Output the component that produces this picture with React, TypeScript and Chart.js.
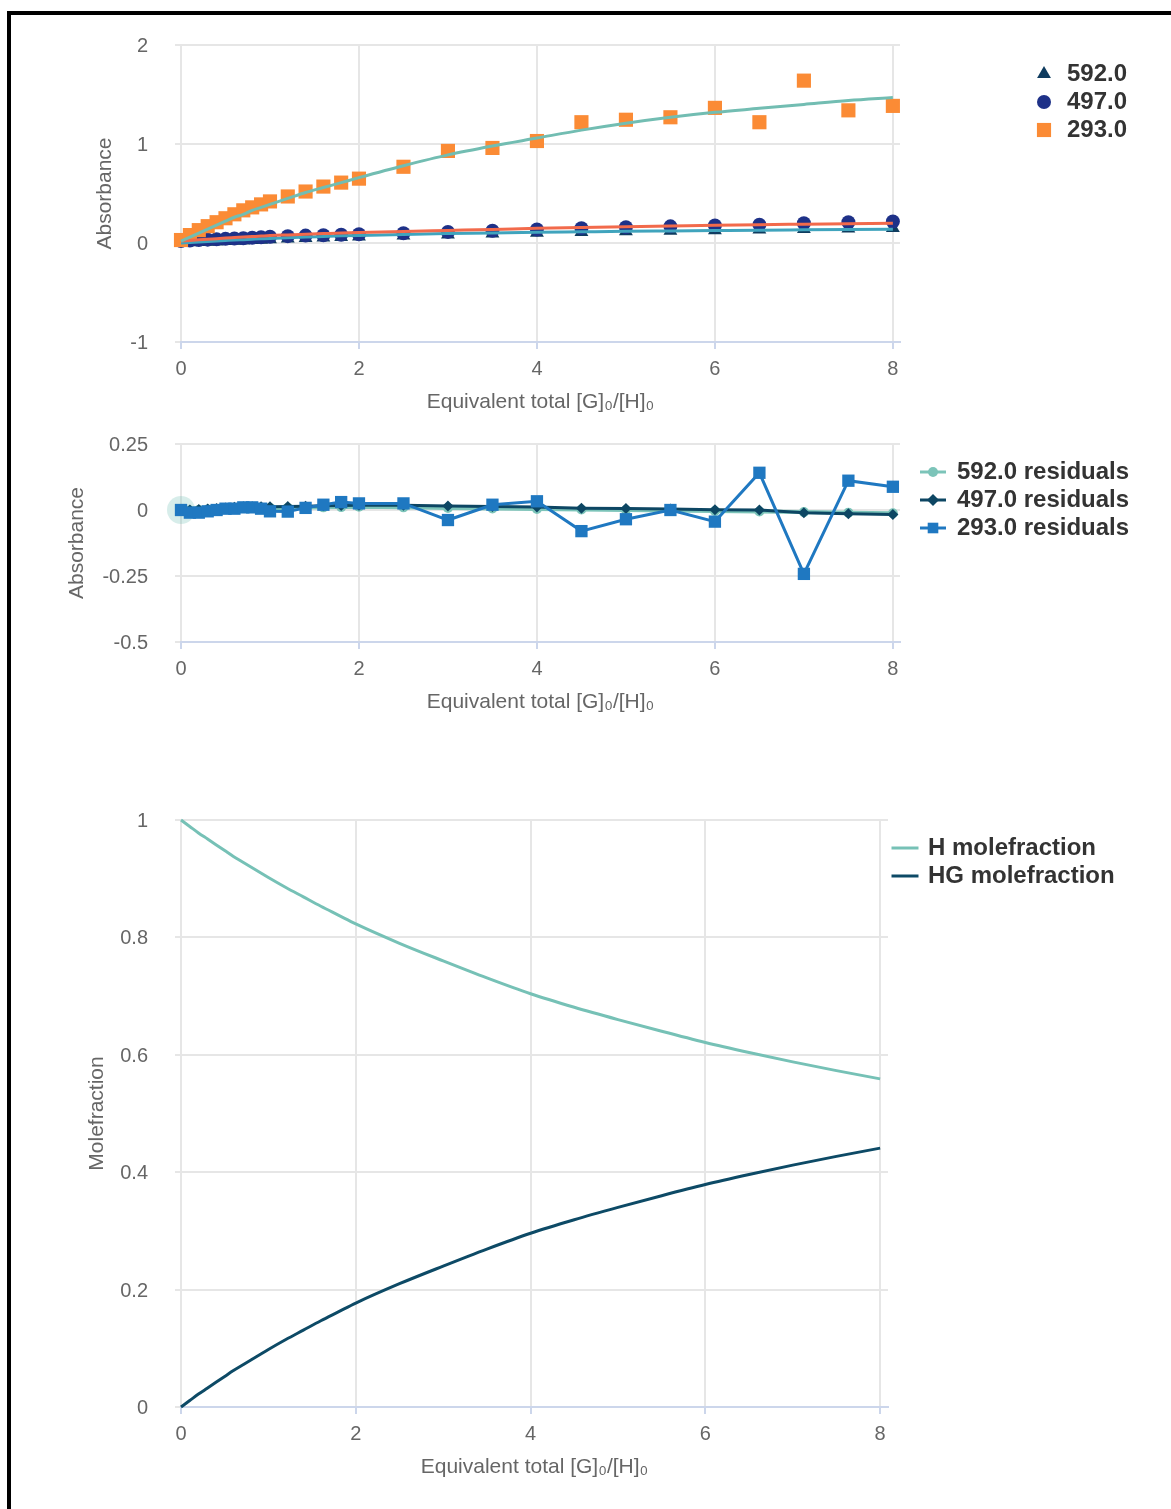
import React, { useEffect, useRef } from 'react';
import { Chart, registerables } from 'chart.js';
import { drawPoint } from 'chart.js/helpers';

Chart.register(...registerables);

const FONT = '"Liberation Sans", Arial, Helvetica, sans-serif';
Chart.defaults.font.family = FONT;

// ---------- data ----------
const xEquiv = [0, 0.1, 0.2, 0.3, 0.4, 0.5, 0.6, 0.7, 0.8, 0.9, 1.0, 1.2, 1.4, 1.6, 1.8, 2.0, 2.5, 3, 3.5, 4, 4.5, 5, 5.5, 6, 6.5, 7, 7.5, 8];

const abs592 = [0, 0.007, 0.01, 0.013, 0.016, 0.019, 0.023, 0.026, 0.03, 0.034, 0.038, 0.045, 0.051, 0.056, 0.061, 0.065, 0.077, 0.087, 0.096, 0.104, 0.111, 0.118, 0.124, 0.13, 0.136, 0.141, 0.146, 0.151];
const abs497 = [0.02, 0.026, 0.03, 0.034, 0.038, 0.042, 0.045, 0.048, 0.053, 0.058, 0.063, 0.069, 0.075, 0.079, 0.084, 0.088, 0.099, 0.112, 0.124, 0.137, 0.15, 0.159, 0.168, 0.178, 0.185, 0.2, 0.209, 0.217];
const abs293 = [0.03, 0.08, 0.13, 0.17, 0.21, 0.25, 0.29, 0.33, 0.36, 0.39, 0.42, 0.47, 0.52, 0.57, 0.61, 0.65, 0.77, 0.93, 0.96, 1.03, 1.22, 1.245, 1.27, 1.365, 1.22, 1.64, 1.34, 1.385];

const fit592 = [0, 0.005, 0.01, 0.015, 0.02, 0.025, 0.03, 0.034, 0.038, 0.042, 0.046, 0.053, 0.06, 0.066, 0.072, 0.077, 0.087, 0.095, 0.102, 0.108, 0.113, 0.118, 0.122, 0.126, 0.13, 0.133, 0.136, 0.139];
const fit497 = [0.02, 0.026, 0.032, 0.038, 0.044, 0.05, 0.055, 0.06, 0.065, 0.07, 0.075, 0.082, 0.089, 0.095, 0.101, 0.106, 0.117, 0.127, 0.137, 0.148, 0.157, 0.165, 0.172, 0.179, 0.185, 0.19, 0.195, 0.2];
const fit293 = [0.02, 0.06, 0.1, 0.14, 0.18, 0.22, 0.26, 0.29, 0.33, 0.36, 0.39, 0.45, 0.51, 0.56, 0.61, 0.66, 0.78, 0.89, 0.98, 1.06, 1.14, 1.21, 1.27, 1.32, 1.36, 1.4, 1.44, 1.47];

const res592 = [0, -0.002, 0, 0.002, 0.004, 0.006, 0.007, 0.008, 0.008, 0.008, 0.008, 0.008, 0.009, 0.01, 0.011, 0.012, 0.01, 0.008, 0.006, 0.004, 0.002, 0, -0.002, -0.004, -0.006, -0.008, -0.01, -0.012];
const res497 = [0, 0, 0.002, 0.004, 0.006, 0.008, 0.01, 0.012, 0.012, 0.012, 0.012, 0.013, 0.014, 0.016, 0.017, 0.018, 0.018, 0.015, 0.013, 0.011, 0.007, 0.006, 0.004, 0.001, 0, -0.01, -0.014, -0.017];
const res293 = [0, -0.01, -0.01, -0.005, 0, 0.005, 0.005, 0.01, 0.01, 0.005, -0.005, -0.006, 0.008, 0.02, 0.03, 0.025, 0.025, -0.038, 0.02, 0.033, -0.08, -0.035, 0, -0.044, 0.141, -0.242, 0.111, 0.088];

const moleH = [1, 0.989, 0.978, 0.968, 0.958, 0.948, 0.938, 0.929, 0.92, 0.911, 0.902, 0.885, 0.869, 0.853, 0.838, 0.823, 0.79, 0.76, 0.731, 0.704, 0.681, 0.66, 0.64, 0.621, 0.604, 0.588, 0.573, 0.559];
const moleHG = [0, 0.011, 0.022, 0.032, 0.042, 0.052, 0.062, 0.071, 0.08, 0.089, 0.098, 0.115, 0.131, 0.147, 0.162, 0.177, 0.21, 0.24, 0.269, 0.296, 0.319, 0.34, 0.36, 0.379, 0.396, 0.412, 0.427, 0.441];

const xTicks = [0, 2, 4, 6, 8];
const absTicks = [-1, 0, 1, 2];
const resTicks = [-0.5, -0.25, 0, 0.25];
const moleTicks = [0, 0.2, 0.4, 0.6, 0.8, 1];

const seriesLabels = ['592.0', '497.0', '293.0'];
const residualLabels = ['592.0 residuals', '497.0 residuals', '293.0 residuals'];
const moleLabels = ['H molefraction', 'HG molefraction'];
const xTitle = 'Equivalent total [G]\u2080/[H]\u2080';

// ---------- helpers ----------
const pts = (ys: number[]) => xEquiv.map((x, i) => ({ x, y: ys[i] }));

const C = {
  tri: '#0f3c5f',
  circ: '#1e3188',
  sq: '#fb8b35',
  fit293: '#72bdb2',
  fit497: '#f26a4b',
  fit592: '#40a4bd',
  r592: '#7cc4b9',
  r497: '#0d4663',
  r293: '#1f78c1',
  H: '#76c1b6',
  HG: '#0d4a66',
};

type LegendEntry = { text: string; color: string; pointStyle?: any; radius?: number; line?: boolean };

function makeLegend(id: string, entries: LegendEntry[], lay: { x: number; y: number; dy: number; lineW: number; textX: number }) {
  return {
    id,
    afterDraw(chart: any) {
      const ctx = chart.ctx as CanvasRenderingContext2D;
      ctx.save();
      entries.forEach((e, i) => {
        const y = lay.y + i * lay.dy;
        if (e.line) {
          ctx.strokeStyle = e.color;
          ctx.lineWidth = 3;
          ctx.beginPath();
          ctx.moveTo(lay.x - lay.lineW / 2, y);
          ctx.lineTo(lay.x + lay.lineW / 2, y);
          ctx.stroke();
        }
        if (e.pointStyle) {
          ctx.fillStyle = e.color;
          drawPoint(ctx, { pointStyle: e.pointStyle, radius: e.radius || 6, rotation: 0, borderWidth: 0 } as any, lay.x, y);
        }
        ctx.fillStyle = '#333333';
        ctx.font = `bold 24px ${FONT}`;
        ctx.textAlign = 'left';
        ctx.textBaseline = 'middle';
        ctx.fillText(e.text, lay.textX, y);
      });
      ctx.restore();
    },
  };
}

function baseOptions(o: {
  yTicks: number[]; yTitle: string; yTitlePad: number; xMax: number; padTop: number; padRight: number;
}) {
  const yMin = o.yTicks[0];
  const yMax = o.yTicks[o.yTicks.length - 1];
  return {
    animation: false,
    responsive: false,
    maintainAspectRatio: false,
    events: [],
    layout: { padding: { top: o.padTop, right: o.padRight, left: 0, bottom: 0 } },
    plugins: { legend: { display: false }, tooltip: { enabled: false } },
    scales: {
      x: {
        type: 'linear',
        min: 0,
        max: o.xMax,
        afterBuildTicks: (s: any) => { s.ticks = xTicks.map((v) => ({ value: v })); },
        ticks: { color: '#666666', font: { size: 20 }, padding: 8, maxRotation: 0, callback: (v: any) => String(v) },
        grid: { color: '#e6e6e6', lineWidth: 2, tickLength: 7, tickColor: '#ccd6eb' },
        border: { color: '#ccd6eb', width: 2 },
        title: { display: true, text: xTitle, color: '#666666', font: { size: 21 }, padding: { top: 0, bottom: 5.5 } },
        afterFit: (s: any) => { s.height = 78; },
      },
      y: {
        type: 'linear',
        min: yMin,
        max: yMax,
        afterBuildTicks: (s: any) => { s.ticks = o.yTicks.map((v) => ({ value: v })); },
        ticks: { color: '#666666', font: { size: 20 }, padding: 27, labelOffset: 1.5, callback: (v: any) => String(v) },
        grid: { color: '#e6e6e6', lineWidth: 2, tickLength: 6, tickColor: '#e6e6e6' },
        border: { display: false },
        title: { display: true, text: o.yTitle, color: '#666666', font: { size: 21 }, padding: { top: o.yTitlePad, bottom: 0 } },
        afterFit: (s: any) => { s.width = 181; },
      },
    },
  };
}

function absConfig(): any {
  return {
    type: 'scatter',
    data: {
      datasets: [
        { label: 'fit 293.0', data: pts(fit293), showLine: true, borderColor: C.fit293, borderWidth: 3, pointRadius: 0, cubicInterpolationMode: 'monotone', order: 0, clip: false },
        { label: 'fit 497.0', data: pts(fit497), showLine: true, borderColor: C.fit497, borderWidth: 3, pointRadius: 0, cubicInterpolationMode: 'monotone', order: 0, clip: false },
        { label: 'fit 592.0', data: pts(fit592), showLine: true, borderColor: C.fit592, borderWidth: 3, pointRadius: 0, cubicInterpolationMode: 'monotone', order: 0, clip: false },
        { label: seriesLabels[2], data: pts(abs293), pointStyle: 'rect', pointRadius: 10, backgroundColor: C.sq, borderWidth: 0, pointBorderWidth: 0, order: 1, clip: false },
        { label: seriesLabels[1], data: pts(abs497), pointStyle: 'circle', pointRadius: 7, backgroundColor: C.circ, borderWidth: 0, pointBorderWidth: 0, order: 2, clip: false },
        { label: seriesLabels[0], data: pts(abs592), pointStyle: 'triangle', pointRadius: 8, backgroundColor: C.tri, borderWidth: 0, pointBorderWidth: 0, order: 3, clip: false },
      ],
    },
    options: baseOptions({ yTicks: absTicks, yTitle: 'Absorbance', yTitlePad: 93, xMax: 8.08, padTop: 45, padRight: 271 }),
    plugins: [
      makeLegend('legendAbs', [
        { text: seriesLabels[0], color: C.tri, pointStyle: 'triangle', radius: 8 },
        { text: seriesLabels[1], color: C.circ, pointStyle: 'circle', radius: 7 },
        { text: seriesLabels[2], color: C.sq, pointStyle: 'rect', radius: 10 },
      ], { x: 1044, y: 74, dy: 28, lineW: 0, textX: 1067 }),
    ],
  };
}

function resConfig(): any {
  return {
    type: 'scatter',
    data: {
      datasets: [
        {
          label: residualLabels[2], data: pts(res293), showLine: true, borderColor: C.r293, borderWidth: 3,
          pointStyle: 'rect', pointRadius: 8.7, backgroundColor: C.r293, pointBorderWidth: 0, order: 0, clip: false,
        },
        {
          label: residualLabels[1], data: pts(res497), showLine: true, borderColor: C.r497, borderWidth: 3,
          pointStyle: 'rectRot', pointRadius: 5.5, backgroundColor: C.r497, pointBorderWidth: 0, order: 1, clip: false,
        },
        {
          label: residualLabels[0], data: pts(res592), showLine: true, borderColor: C.r592, borderWidth: 4,
          pointStyle: 'circle',
          pointRadius: (ctx: any) => (ctx.dataIndex === 0 ? 14 : 5),
          pointBackgroundColor: (ctx: any) => (ctx.dataIndex === 0 ? 'rgba(124,196,185,0.3)' : C.r592),
          pointBorderWidth: 0, order: 2, clip: false,
        },
      ],
    },
    options: baseOptions({ yTicks: resTicks, yTitle: 'Absorbance', yTitlePad: 65, xMax: 8.08, padTop: 44, padRight: 271 }),
    plugins: [
      makeLegend('legendRes', [
        { text: residualLabels[0], color: C.r592, pointStyle: 'circle', radius: 5, line: true },
        { text: residualLabels[1], color: C.r497, pointStyle: 'rectRot', radius: 6, line: true },
        { text: residualLabels[2], color: C.r293, pointStyle: 'rect', radius: 7.5, line: true },
      ], { x: 933, y: 72, dy: 28, lineW: 26, textX: 957 }),
    ],
  };
}

function moleConfig(): any {
  return {
    type: 'scatter',
    data: {
      datasets: [
        { label: moleLabels[0], data: pts(moleH), showLine: true, borderColor: C.H, borderWidth: 3, pointRadius: 0, cubicInterpolationMode: 'monotone', clip: false },
        { label: moleLabels[1], data: pts(moleHG), showLine: true, borderColor: C.HG, borderWidth: 3, pointRadius: 0, cubicInterpolationMode: 'monotone', clip: false },
      ],
    },
    options: baseOptions({ yTicks: moleTicks, yTitle: 'Molefraction', yTitlePad: 85, xMax: 8.09, padTop: 100, padRight: 283 }),
    plugins: [
      makeLegend('legendMole', [
        { text: moleLabels[0], color: C.H, line: true },
        { text: moleLabels[1], color: C.HG, line: true },
      ], { x: 905, y: 128, dy: 28, lineW: 27, textX: 928 }),
    ],
  };
}

function ChartCanvas({ top, height, make }: { top: number; height: number; make: () => any }) {
  const ref = useRef<HTMLCanvasElement>(null);
  useEffect(() => {
    const chart = new Chart(ref.current as HTMLCanvasElement, make());
    return () => chart.destroy();
  }, []);
  return (
    <canvas
      ref={ref}
      width={1171}
      height={height}
      style={{ position: 'absolute', left: 0, top, width: 1171, height, display: 'block' }}
    />
  );
}

export default function App() {
  return (
    <div style={{ position: 'absolute', left: 0, top: 0, width: 1171, height: 1509, overflow: 'hidden', background: '#fff' }}>
      <div style={{ position: 'absolute', left: 7, top: 11, width: 1250, height: 1600, border: '4px solid #000', boxSizing: 'border-box' }} />
      <ChartCanvas top={0} height={420} make={absConfig} />
      <ChartCanvas top={400} height={320} make={resConfig} />
      <ChartCanvas top={720} height={765} make={moleConfig} />
    </div>
  );
}
